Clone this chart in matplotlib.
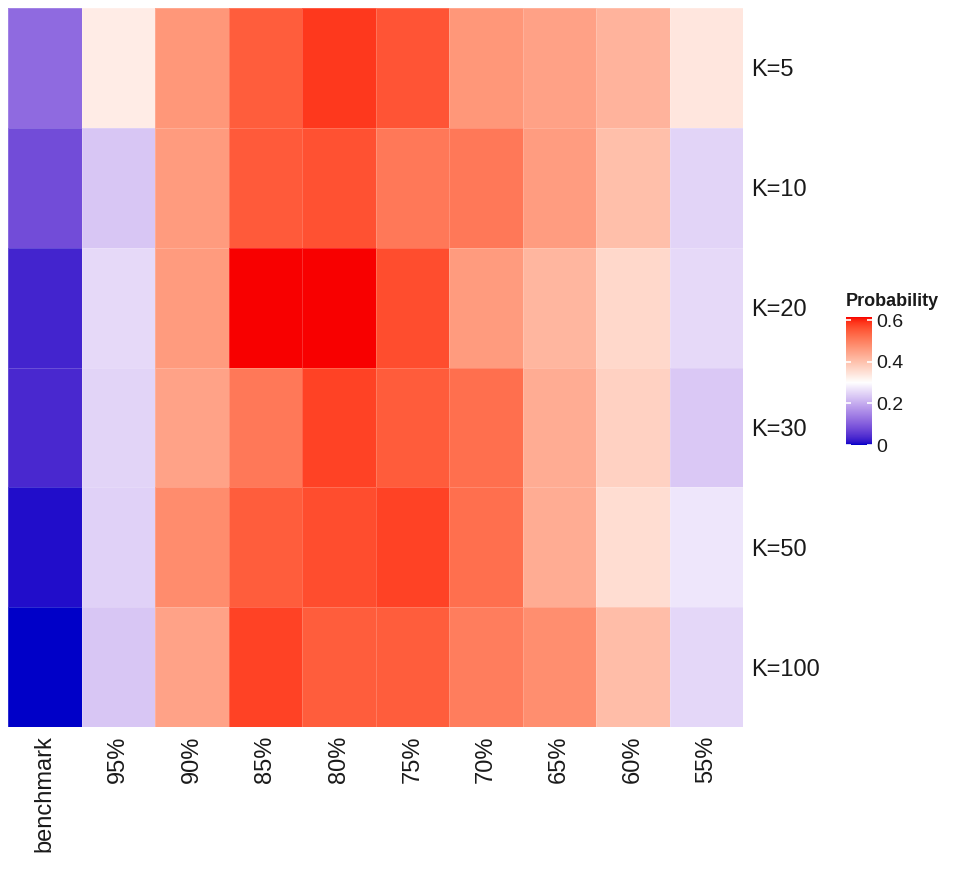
import numpy as np
import matplotlib
matplotlib.use("Agg")
import matplotlib.pyplot as plt
from matplotlib.colors import ListedColormap, TwoSlopeNorm

# ---------------- data ----------------
columns = ["benchmark", "95%", "90%", "85%", "80%", "75%", "70%", "65%", "60%", "55%"]
rows = ["K=5", "K=10", "K=20", "K=30", "K=50", "K=100"]

k5   = [0.117, 0.330, 0.467, 0.548, 0.587, 0.558, 0.467, 0.451, 0.423, 0.340]
k10  = [0.078, 0.231, 0.461, 0.552, 0.561, 0.511, 0.511, 0.458, 0.404, 0.249]
k20  = [0.030, 0.255, 0.461, 0.615, 0.615, 0.566, 0.461, 0.417, 0.363, 0.255]
k30  = [0.035, 0.249, 0.450, 0.511, 0.577, 0.549, 0.524, 0.434, 0.374, 0.234]
k50  = [0.009, 0.246, 0.483, 0.548, 0.566, 0.577, 0.524, 0.434, 0.355, 0.270]
k100 = [0.000, 0.231, 0.450, 0.577, 0.548, 0.548, 0.505, 0.480, 0.407, 0.252]

legend_title = "Probability"
legend_ticks = [0, 0.2, 0.4, 0.6]
legend_labels = ["0", "0.2", "0.4", "0.6"]
midpoint = 0.3

values = np.array([k5, k10, k20, k30, k50, k100])

# ---------------- colour scale (Lab interpolation) ----------------
def srgb_to_lab(rgb):
    rgb = np.asarray(rgb, float)
    lin = np.where(rgb <= 0.04045, rgb / 12.92, ((rgb + 0.055) / 1.055) ** 2.4)
    M = np.array([[0.4124, 0.3576, 0.1805],
                  [0.2126, 0.7152, 0.0722],
                  [0.0193, 0.1192, 0.9505]])
    xyz = M @ lin
    xyz = xyz / np.array([0.95047, 1.0, 1.08883])
    f = np.where(xyz > 0.008856, np.cbrt(xyz), 7.787 * xyz + 16 / 116)
    return np.array([116 * f[1] - 16, 500 * (f[0] - f[1]), 200 * (f[1] - f[2])])

def lab_to_srgb(lab):
    L, a, b = lab
    fy = (L + 16) / 116
    fx = fy + a / 500
    fz = fy - b / 200
    f = np.array([fx, fy, fz])
    xyz = np.where(f ** 3 > 0.008856, f ** 3, (f - 16 / 116) / 7.787)
    xyz = xyz * np.array([0.95047, 1.0, 1.08883])
    Minv = np.array([[3.2406, -1.5372, -0.4986],
                     [-0.9689, 1.8758, 0.0415],
                     [0.0557, -0.2040, 1.0570]])
    lin = np.clip(Minv @ xyz, 0, 1)
    rgb = np.where(lin <= 0.0031308, 12.92 * lin, 1.055 * lin ** (1 / 2.4) - 0.055)
    return np.clip(rgb, 0, 1)

low = srgb_to_lab([0, 0, 200 / 255])
mid = srgb_to_lab([1, 1, 1])
high = srgb_to_lab([248 / 255, 0, 0])
cols = []
N = 512
for i in range(N):
    t = i / (N - 1)
    if t < 0.5:
        s = t / 0.5
        lab = low + (mid - low) * s
    else:
        s = (t - 0.5) / 0.5
        lab = mid + (high - mid) * s
    cols.append(lab_to_srgb(lab))
cmap = ListedColormap(cols)

vmax_data = values.max()
vmin_data = values.min()
norm = TwoSlopeNorm(vcenter=midpoint, vmin=vmin_data, vmax=vmax_data)

# ---------------- figure ----------------
fig = plt.figure(figsize=(9.61, 8.69), dpi=100)
plt.rcParams['font.family'] = ['Liberation Sans', 'DejaVu Sans']

ax = fig.add_axes([8 / 961, 1 - 727 / 869, 735 / 961, 719 / 869])
nr, nc = values.shape
ax.pcolormesh(np.arange(nc + 1), np.arange(nr + 1), values, cmap=cmap, norm=norm,
              edgecolors=(1, 1, 1, 0.18), linewidth=0.6)
ax.set_xlim(0, nc)
ax.set_ylim(nr, 0)
for s in ax.spines.values():
    s.set_visible(False)
ax.set_xticks(np.arange(nc) + 0.5)
ax.set_xticklabels(columns, rotation=90, fontsize=17, color="#1a1a1a")
ax.set_yticks(np.arange(nr) + 0.5)
ax.set_yticklabels(rows, fontsize=17, color="#1a1a1a")
ax.yaxis.tick_right()
ax.tick_params(axis="both", length=0, pad=6)

# ---------------- legend colourbar ----------------
cax = fig.add_axes([846 / 961, 1 - 445 / 869, 26 / 961, 128 / 869])
grad = np.linspace(vmin_data, vmax_data, 300).reshape(-1, 1)
cax.imshow(grad, cmap=cmap, norm=norm, aspect="auto", origin="lower",
           extent=[0, 1, vmin_data, vmax_data])
cax.set_xlim(0, 1)
cax.set_ylim(vmin_data, vmax_data)
for s in cax.spines.values():
    s.set_visible(False)
cax.set_xticks([])
cax.yaxis.tick_right()
cax.set_yticks(legend_ticks)
cax.set_yticklabels(legend_labels, fontsize=14, color="#1a1a1a")
cax.tick_params(axis="y", length=0, pad=3)
for tv in legend_ticks:
    cax.plot([0, 0.2], [tv, tv], color="white", lw=1.2, solid_capstyle="butt")
    cax.plot([0.8, 1], [tv, tv], color="white", lw=1.2, solid_capstyle="butt")
fig.text(846 / 961, 1 - 302 / 869, legend_title, fontsize=13, fontweight="bold",
         ha="left", va="center", color="#1a1a1a")

fig.savefig("out.png", dpi=100, facecolor="white")
